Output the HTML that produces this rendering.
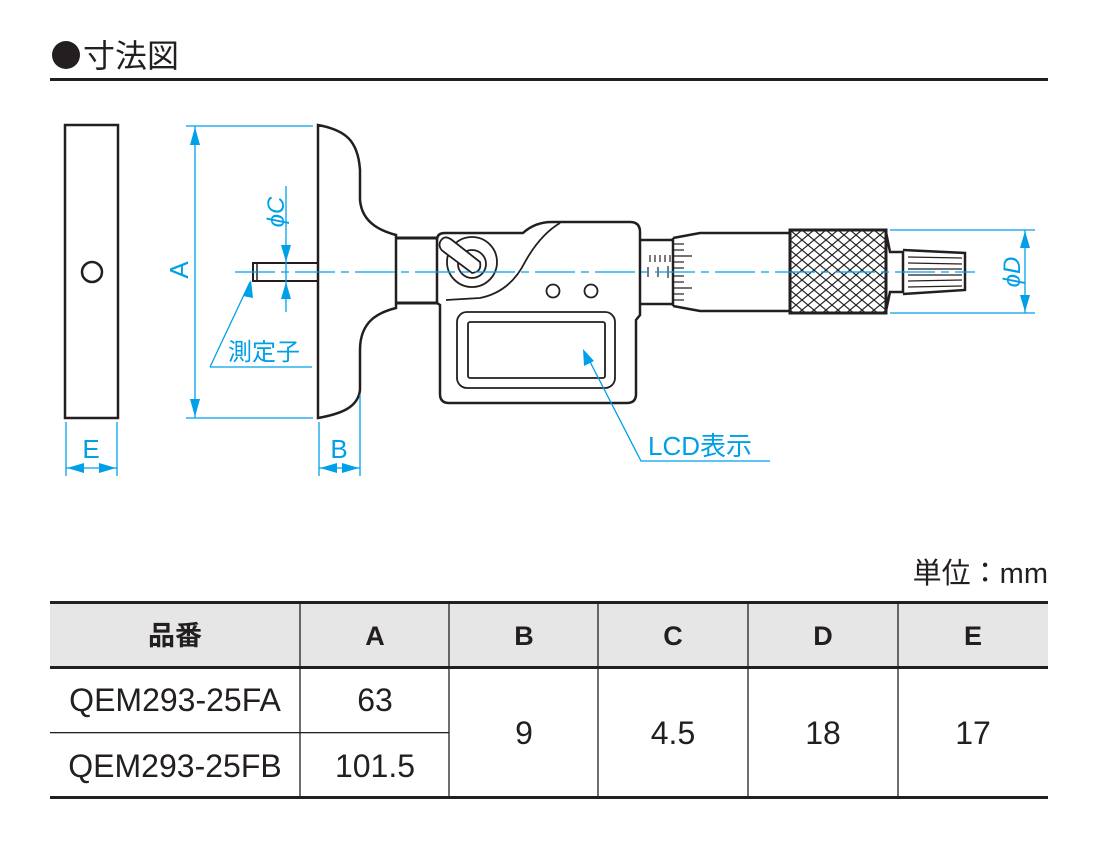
<!DOCTYPE html>
<html><head><meta charset="utf-8"><style>
html,body{margin:0;padding:0;background:#fff;}
body{width:1100px;height:850px;overflow:hidden;}
svg{display:block;}
text{font-family:"Liberation Sans","Noto Sans CJK JP",sans-serif;}
</style></head><body>
<svg width="1100" height="850" viewBox="0 0 1100 850" xmlns="http://www.w3.org/2000/svg">
<defs>
<pattern id="kn" x="790" y="230" width="12" height="10" patternUnits="userSpaceOnUse">
<path d="M0 0L12 10M12 0L0 10" stroke="#222" stroke-width="1.2"/>
</pattern>
</defs>
<!-- title -->
<circle cx="66" cy="55" r="14" fill="#231f20"/>
<text x="83" y="67" font-size="32" fill="#231f20">寸法図</text>
<rect x="50" y="78" width="998" height="3" fill="#231f20"/>

<g fill="none" stroke="#231f20" stroke-width="2.5">
<rect x="65" y="125" width="53" height="293"/>
<circle cx="92" cy="272" r="10"/>
<path d="M318 125 C345 130 358 140 360 170 L360 200 C362 225 385 232 396 235 L396 308 C380 312 360 320 360 350 L360 390 C358 408 340 414 318 418 Z"/>
<path d="M396 238 L437 238 M396 303 L437 303" stroke-width="3"/>
<rect x="253" y="263" width="65" height="18" stroke-width="2"/>
<line x1="257" y1="263" x2="257" y2="281" stroke-width="1.5"/>
<path d="M437 240 Q437 233 445 233 L523 233 Q535 222 552 222 L630 222 Q640 222 640 232 L640 315 L636 320 L636 394 Q636 403 627 403 L449 403 Q440 403 440 394 L440 305 L437 303 Z"/>
<path d="M560 223 Q540 235 525 262 Q510 292 480 298 L446 300" stroke-width="1.8"/>
<circle cx="472" cy="262" r="25" stroke-width="1.8"/>
<circle cx="472" cy="264" r="14" stroke-width="1.8"/>
<path d="M440 242 Q444 234 452 240 L480 262 Q482 272 472 273 L444 252 Q438 248 440 242 Z" fill="#fff" stroke-width="1.8"/>
<circle cx="553" cy="291" r="6.5" stroke-width="1.8"/>
<circle cx="591" cy="291" r="6.5" stroke-width="1.8"/>
<rect x="457" y="312" width="158" height="76" rx="10" stroke-width="1.8"/>
<rect x="468" y="322" width="137" height="56" rx="2" stroke-width="1.8"/>
<path d="M640 240 L673 240 M640 304 L673 304"/>
<path d="M673 238 L673 306 M673 238 L700 233 L790 233 M673 306 L700 311 L790 311"/>
<rect x="790" y="230" width="96" height="83" fill="url(#kn)" stroke-width="3"/>
<path d="M886 232 L890 252 L903 252 L903 292 L890 292 L886 311"/>
<path d="M903 250 L965 253 L965 290 L903 294" stroke-width="2.5"/>
</g>
<g stroke="#231f20" stroke-width="1.2">
<line x1="650" y1="255" x2="650" y2="262"/><line x1="655" y1="255" x2="655" y2="262"/><line x1="660" y1="255" x2="660" y2="262"/><line x1="665" y1="255" x2="665" y2="262"/><line x1="670" y1="255" x2="670" y2="262"/>
<line x1="648" y1="267" x2="648" y2="277"/><line x1="658" y1="267" x2="658" y2="277"/><line x1="668" y1="266" x2="668" y2="278"/>
<line x1="673" y1="244" x2="684" y2="244"/><line x1="673" y1="250" x2="684" y2="250"/><line x1="673" y1="256" x2="692" y2="256"/><line x1="673" y1="262" x2="684" y2="262"/><line x1="673" y1="268" x2="684" y2="268"/><line x1="673" y1="276" x2="684" y2="276"/><line x1="673" y1="282" x2="684" y2="282"/><line x1="673" y1="288" x2="692" y2="288"/><line x1="673" y1="294" x2="684" y2="294"/><line x1="673" y1="300" x2="684" y2="300"/>
<line x1="908" y1="257" x2="962" y2="258"/><line x1="908" y1="263" x2="962" y2="264"/><line x1="908" y1="269" x2="962" y2="269"/><line x1="908" y1="275" x2="962" y2="275"/><line x1="908" y1="281" x2="962" y2="280"/><line x1="908" y1="287" x2="962" y2="286"/>
</g>

<g stroke="#00a0e9" stroke-width="1.3" fill="none">
<line x1="235" y1="272" x2="975" y2="272" stroke-dasharray="40 6 8 6"/>
<line x1="186" y1="126" x2="313" y2="126"/><line x1="186" y1="418" x2="313" y2="418"/>
<line x1="195" y1="126" x2="195" y2="418"/>
<line x1="286" y1="186" x2="286" y2="312"/>
<line x1="66" y1="422" x2="66" y2="476"/><line x1="117" y1="422" x2="117" y2="476"/><line x1="66" y1="468" x2="117" y2="468"/>
<line x1="319" y1="422" x2="319" y2="476"/><line x1="360" y1="395" x2="360" y2="476"/><line x1="319" y1="468" x2="360" y2="468"/>
<path d="M210 367 L312 367 M210 367 L250 282"/>
<line x1="890" y1="230" x2="1035" y2="230"/><line x1="890" y1="313" x2="1035" y2="313"/>
<line x1="1025" y1="230" x2="1025" y2="313"/>
<path d="M770 461 L641 461 L585 352"/>
</g>
<g fill="#00a0e9">
<path d="M195 127 L190 145 L200 145Z"/><path d="M195 417 L190 399 L200 399Z"/>
<path d="M286 262 L281 245 L291 245Z"/><path d="M286 282 L281 299 L291 299Z"/>
<path d="M67 468 L84 463 L84 473Z"/><path d="M116 468 L99 463 L99 473Z"/>
<path d="M320 468 L337 463 L337 473Z"/><path d="M359 468 L342 463 L342 473Z"/>
<path d="M251 280 L243 296 L253 298Z"/>
<path d="M1025 231 L1020 248 L1030 248Z"/><path d="M1025 312 L1020 295 L1030 295Z"/>
<path d="M583 349 L584 366 L594 361Z"/>
<text x="91" y="458" font-size="26" text-anchor="middle">E</text>
<text x="339" y="458" font-size="26" text-anchor="middle">B</text>
<text transform="translate(188,270) rotate(-90)" font-size="26" text-anchor="middle">A</text>
<text transform="translate(284,212) rotate(-90)" font-size="24" text-anchor="middle" font-style="italic">ϕC</text>
<text transform="translate(1020,272) rotate(-90)" font-size="24" text-anchor="middle" font-style="italic">ϕD</text>
<text x="228" y="360" font-size="24">測定子</text>
<text x="648" y="455" font-size="26">LCD表示</text>
</g>

<text x="1048" y="583" font-size="29" text-anchor="end" fill="#231f20">単位：mm</text>
<rect x="50" y="603" width="998" height="64" fill="#e6e6e6"/>
<g fill="#231f20">
<rect x="50" y="601" width="998" height="3"/>
<rect x="50" y="666" width="998" height="3"/>
<rect x="50" y="732" width="399" height="1.3"/>
<rect x="50" y="796" width="998" height="3"/>
</g>
<g stroke="#231f20" stroke-width="1.3">
<line x1="300" y1="603" x2="300" y2="796"/><line x1="449" y1="603" x2="449" y2="796"/><line x1="598" y1="603" x2="598" y2="796"/><line x1="748" y1="603" x2="748" y2="796"/><line x1="898" y1="603" x2="898" y2="796"/>
</g>
<g fill="#231f20" text-anchor="middle">
<g font-size="27" font-weight="bold">
<text x="175" y="645">品番</text><text x="375" y="645">A</text><text x="524" y="645">B</text><text x="673" y="645">C</text><text x="823" y="645">D</text><text x="973" y="645">E</text>
</g>
<g font-size="32">
<text x="175" y="711">QEM293-25FA</text><text x="375" y="711">63</text>
<text x="175" y="777">QEM293-25FB</text><text x="375" y="777">101.5</text>
<text x="524" y="744">9</text><text x="673" y="744">4.5</text><text x="823" y="744">18</text><text x="973" y="744">17</text>
</g>
</g>
</svg>
</body></html>
